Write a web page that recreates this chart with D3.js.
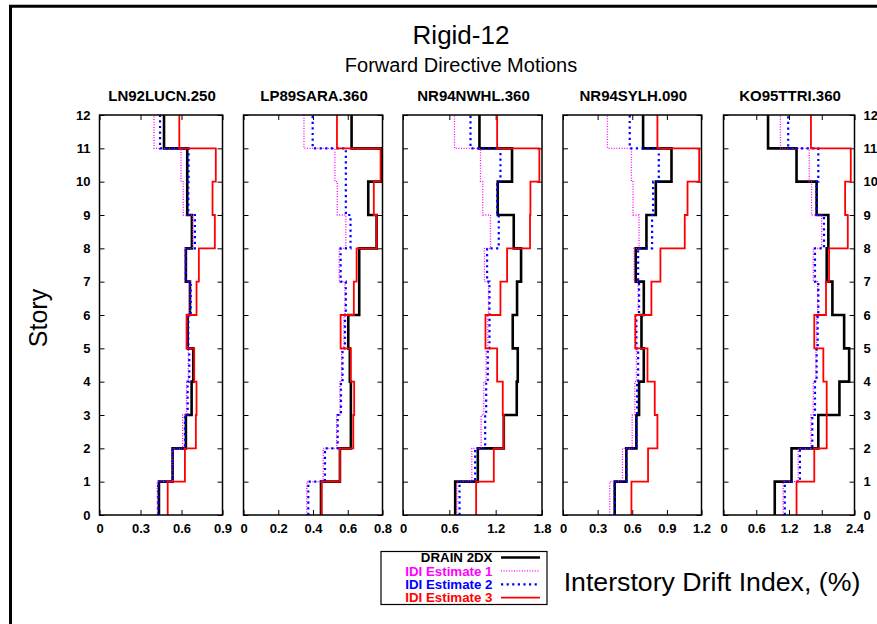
<!DOCTYPE html>
<html>
<head>
<meta charset="utf-8">
<script src="https://cdn.jsdelivr.net/npm/d3@7"></script>
<style>
  html, body { margin: 0; padding: 0; background: #fff; }
  svg { display: block; font-family: "Liberation Sans", Arial, sans-serif; }
</style>
</head>
<body>
<svg id="chart" width="877" height="624"></svg>
<script>
// Ground-motion records, one panel each
const records = ["LN92LUCN.250", "LP89SARA.360", "NR94NWHL.360", "NR94SYLH.090", "KO95TTRI.360"];
const xMaxes = [0.9, 0.8, 1.8, 1.2, 2.4];
const xTickSteps = [0.3, 0.2, 0.6, 0.3, 0.6];
const storyTicks = [0, 1, 2, 3, 4, 5, 6, 7, 8, 9, 10, 11, 12];

// Interstory drift index (%) per story, story 1 (0-1) up to story 12 (11-12)
const drain2dx = [
  [0.435, 0.535, 0.632, 0.674, 0.686, 0.645, 0.662, 0.632, 0.676, 0.642, 0.642, 0.472],
  [0.446, 0.555, 0.618, 0.618, 0.612, 0.603, 0.666, 0.666, 0.766, 0.718, 0.794, 0.622],
  [0.676, 0.969, 1.305, 1.473, 1.486, 1.421, 1.477, 1.529, 1.434, 1.227, 1.412, 0.990],
  [0.448, 0.549, 0.636, 0.659, 0.700, 0.680, 0.700, 0.630, 0.723, 0.804, 0.940, 0.694],
  [0.939, 1.246, 1.737, 2.124, 2.302, 2.210, 1.995, 1.891, 1.921, 1.706, 1.338, 0.816]
];
const idiEstimate1 = [
  [0.423, 0.535, 0.608, 0.637, 0.650, 0.642, 0.662, 0.625, 0.681, 0.613, 0.596, 0.399],
  [0.364, 0.459, 0.536, 0.555, 0.565, 0.578, 0.584, 0.551, 0.589, 0.540, 0.526, 0.348],
  [0.698, 0.891, 1.012, 1.046, 1.077, 1.098, 1.107, 1.055, 1.133, 1.033, 1.003, 0.667],
  [0.405, 0.515, 0.599, 0.622, 0.636, 0.622, 0.651, 0.616, 0.659, 0.607, 0.593, 0.385],
  [1.093, 1.369, 1.602, 1.645, 1.694, 1.706, 1.725, 1.645, 1.798, 1.614, 1.571, 1.043]
];
const idiEstimate2 = [
  [0.430, 0.535, 0.625, 0.645, 0.657, 0.650, 0.667, 0.632, 0.698, 0.650, 0.652, 0.443],
  [0.373, 0.469, 0.542, 0.561, 0.570, 0.584, 0.589, 0.559, 0.616, 0.589, 0.589, 0.398],
  [0.732, 0.934, 1.064, 1.077, 1.098, 1.120, 1.120, 1.089, 1.240, 1.219, 1.262, 0.874],
  [0.448, 0.549, 0.636, 0.642, 0.651, 0.636, 0.659, 0.651, 0.772, 0.781, 0.830, 0.578],
  [1.123, 1.400, 1.627, 1.676, 1.706, 1.725, 1.737, 1.676, 1.841, 1.706, 1.737, 1.185]
];
const idiEstimate3 = [
  [0.499, 0.625, 0.705, 0.710, 0.693, 0.637, 0.710, 0.727, 0.844, 0.827, 0.851, 0.584],
  [0.450, 0.555, 0.632, 0.637, 0.618, 0.559, 0.635, 0.651, 0.766, 0.750, 0.789, 0.538],
  [0.947, 1.176, 1.305, 1.292, 1.219, 1.068, 1.262, 1.348, 1.645, 1.650, 1.766, 1.219],
  [0.593, 0.737, 0.818, 0.795, 0.732, 0.627, 0.766, 0.844, 1.055, 1.079, 1.180, 0.818],
  [1.338, 1.663, 1.891, 1.891, 1.829, 1.663, 1.878, 1.934, 2.277, 2.228, 2.332, 1.602]
];

const seriesNames = ["DRAIN 2DX", "IDI Estimate 1", "IDI Estimate 2", "IDI Estimate 3"];
const seriesColors = ["#000000", "#ff00ff", "#0000ff", "#ff0000"];
const seriesWidths = [2.6, 1.3, 2.2, 1.8];
const seriesDash = [null, "1,1.6", "2.2,3.4", null];
const seriesData = [drain2dx, idiEstimate1, idiEstimate2, idiEstimate3];

// Panel layout (pixel extents of each plot frame)
const panelLeft = [99.5, 243.5, 403, 563, 723.5];
const panelRight = [222.5, 382.5, 542, 701.5, 854.5];
const plotTop = 115, plotBottom = 515;

const svg = d3.select("#chart");

// Outer frame lines
svg.append("line").attr("x1", 10.5).attr("x2", 10.5).attr("y1", 5).attr("y2", 624)
  .attr("stroke", "#000").attr("stroke-width", 3);
svg.append("line").attr("x1", 9).attr("x2", 877).attr("y1", 6.3).attr("y2", 6.3)
  .attr("stroke", "#000").attr("stroke-width", 3);

// Titles
svg.append("text").attr("x", 461).attr("y", 44).attr("text-anchor", "middle")
  .attr("font-size", 26).text("Rigid-12");
svg.append("text").attr("x", 461).attr("y", 72).attr("text-anchor", "middle")
  .attr("font-size", 20).text("Forward Directive Motions");

const y = d3.scaleLinear().domain([0, 12]).range([plotBottom, plotTop]);

records.forEach((name, p) => {
  const x = d3.scaleLinear().domain([0, xMaxes[p]]).range([panelLeft[p], panelRight[p]]);
  const g = svg.append("g");
  const ticks = d3.range(0, xMaxes[p] + 1e-9, xTickSteps[p]).map(v => +v.toFixed(2));
  const fmt = v => (v === 0 ? "0" : d3.format(".1f")(v));

  // Axes with inward ticks on all four sides
  const bottom = g.append("g").attr("transform", `translate(0,${plotBottom})`)
    .call(d3.axisBottom(x).tickValues(ticks).tickFormat(fmt).tickSizeInner(-5).tickSizeOuter(0).tickPadding(9));
  const top = g.append("g").attr("transform", `translate(0,${plotTop})`)
    .call(d3.axisTop(x).tickValues(ticks).tickFormat("").tickSizeInner(-5).tickSizeOuter(0));
  const left = g.append("g").attr("transform", `translate(${panelLeft[p]},0)`)
    .call(d3.axisLeft(y).tickValues(storyTicks).tickFormat(p === 0 ? d3.format("d") : "")
      .tickSizeInner(-5).tickSizeOuter(0).tickPadding(9));
  const right = g.append("g").attr("transform", `translate(${panelRight[p]},0)`)
    .call(d3.axisRight(y).tickValues(storyTicks).tickFormat(p === records.length - 1 ? d3.format("d") : "")
      .tickSizeInner(-5).tickSizeOuter(0).tickPadding(9));
  [bottom, top, left, right].forEach(a => {
    a.select(".domain").remove();
    a.selectAll(".tick line").attr("stroke", "#000").attr("stroke-width", 1);
    a.selectAll(".tick text").attr("font-size", 13).attr("font-weight", "bold")
      .attr("font-family", "Liberation Sans, Arial, sans-serif").attr("fill", "#000");
  });

  // Step profiles
  seriesData.forEach((series, s) => {
    const vals = series[p];
    const pts = [];
    vals.forEach((v, i) => { pts.push([v, i]); pts.push([v, i + 1]); });
    g.append("path")
      .attr("d", d3.line().x(d => x(d[0])).y(d => y(d[1]))(pts))
      .attr("fill", "none")
      .attr("stroke", seriesColors[s])
      .attr("stroke-width", seriesWidths[s])
      .attr("stroke-dasharray", seriesDash[s])
      .attr("stroke-linejoin", "miter");
  });

  // Plot frame
  g.append("rect").attr("x", panelLeft[p]).attr("y", plotTop)
    .attr("width", panelRight[p] - panelLeft[p]).attr("height", plotBottom - plotTop)
    .attr("fill", "none").attr("stroke", "#000").attr("stroke-width", 1.5);

  // Record name
  g.append("text").attr("x", (panelLeft[p] + panelRight[p]) / 2 + 1).attr("y", 101)
    .attr("text-anchor", "middle").attr("font-size", 15).attr("font-weight", "bold")
    .text(name);
});

// Axis titles
svg.append("text").attr("transform", "translate(47,318) rotate(-90)")
  .attr("text-anchor", "middle").attr("font-size", 25).text("Story");
svg.append("text").attr("x", 712).attr("y", 591).attr("text-anchor", "middle")
  .attr("font-size", 26.7).text("Interstory Drift Index, (%)");

// Legend
const legend = svg.append("g");
legend.append("rect").attr("x", 381).attr("y", 551.5).attr("width", 166).attr("height", 53)
  .attr("fill", "#fff").attr("stroke", "#000").attr("stroke-width", 1.2);
seriesNames.forEach((n, s) => {
  const ry = 557.5 + s * 13.4;
  legend.append("text").attr("x", 492.5).attr("y", ry + 4.7).attr("text-anchor", "end")
    .attr("font-size", 13.3).attr("font-weight", "bold").attr("fill", seriesColors[s]).text(n);
  legend.append("line").attr("x1", 501).attr("x2", 540).attr("y1", ry).attr("y2", ry)
    .attr("stroke", seriesColors[s]).attr("stroke-width", seriesWidths[s])
    .attr("stroke-dasharray", seriesDash[s]);
});
</script>
</body>
</html>
